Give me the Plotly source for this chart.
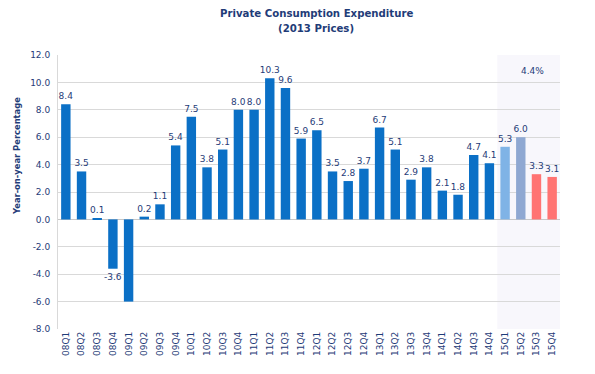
import plotly.graph_objects as go

quarters = ["08Q1","08Q2","08Q3","08Q4","09Q1","09Q2","09Q3","09Q4",
            "10Q1","10Q2","10Q3","10Q4","11Q1","11Q2","11Q3","11Q4",
            "12Q1","12Q2","12Q3","12Q4","13Q1","13Q2","13Q3","13Q4",
            "14Q1","14Q2","14Q3","14Q4","15Q1","15Q2","15Q3","15Q4"]
growth = [8.4, 3.5, 0.1, -3.6, -6.0, 0.2, 1.1, 5.4,
          7.5, 3.8, 5.1, 8.0, 8.0, 10.3, 9.6, 5.9,
          6.5, 3.5, 2.8, 3.7, 6.7, 5.1, 2.9, 3.8,
          2.1, 1.8, 4.7, 4.1, 5.3, 6.0, 3.3, 3.1]
hidden_labels = ["09Q1"]
forecast_note = "4.4%"
y_ticks = [-8, -6, -4, -2, 0, 2, 4, 6, 8, 10, 12]

navy = "#1F3C78"
font_family = "DejaVu Sans"
cond_family = "DejaVu Sans Condensed, DejaVu Sans"
colors = ["#0B70C6"] * 28 + ["#7FB3E6", "#8FA8D2", "#FF7373", "#FF7373"]
labels = ["" if q in hidden_labels else f"{v:.1f}" for q, v in zip(quarters, growth)]

# page body has an 8px margin: size the figure to fill the rest of the window
OFF = 8
W, H = 595 - OFF, 374 - OFF
L, R, T, B = 58 - OFF, 35, 55 - OFF, 45
pw, ph = W - L - R, H - T - B


def px_x(x):
    return (x - OFF - L) / pw


def px_y(y):
    return (H - B - (y - OFF)) / ph


fig = go.Figure()
fig.add_trace(go.Bar(
    x=quarters, y=growth,
    marker=dict(color=colors, line=dict(width=0)),
    width=0.6,
    text=labels, textposition="outside", cliponaxis=False,
    constraintext="none",
    textfont=dict(family=font_family, size=9, color=navy),
))

fig.add_shape(type="rect", xref="x", yref="paper",
              x0=27.5, x1=31.5, y0=0, y1=1,
              fillcolor="#F8F7FC", line=dict(width=0), layer="below")
fig.add_annotation(x=px_x(532), y=px_y(71), xref="paper", yref="paper", text=forecast_note,
                   showarrow=False, xanchor="center", yanchor="middle",
                   font=dict(family=font_family, size=9, color=navy))

fig.add_annotation(x=px_x(316), y=px_y(13), xref="paper", yref="paper",
                   text="<b>Private Consumption Expenditure</b>", showarrow=False,
                   xanchor="center", yanchor="middle",
                   font=dict(family=cond_family, size=11.3, color=navy))
fig.add_annotation(x=px_x(316), y=px_y(28), xref="paper", yref="paper",
                   text="<b>(2013 Prices)</b>", showarrow=False,
                   xanchor="center", yanchor="middle",
                   font=dict(family=cond_family, size=11.3, color=navy))
fig.add_annotation(x=px_x(16), y=px_y(156), xref="paper", yref="paper",
                   text="<b>Year-on-year Percentage</b>", showarrow=False, textangle=-90,
                   xanchor="center", yanchor="middle",
                   font=dict(family=cond_family, size=9.3, color=navy))

fig.update_layout(
    width=W, height=H,
    margin=dict(l=L, r=R, t=T, b=B, autoexpand=False),
    paper_bgcolor="white", plot_bgcolor="white",
    showlegend=False,
    font=dict(family=font_family, size=9, color=navy),
)
fig.update_xaxes(type="category", tickangle=-90, automargin=False,
                 tickfont=dict(family=font_family, size=9, color=navy),
                 showgrid=False, showline=False, ticks="")
fig.update_yaxes(range=[-8, 12], tickvals=y_ticks, automargin=False,
                 ticktext=[f"{v:.1f}" for v in y_ticks],
                 tickfont=dict(family=font_family, size=9, color=navy),
                 ticklabelstandoff=5,
                 showgrid=True, gridcolor="#D9D9D9", gridwidth=1,
                 zeroline=True, zerolinecolor="#C8C8C8", zerolinewidth=1,
                 showline=True, linecolor="#D9D9D9", ticks="")

fig.write_html("out.html")
